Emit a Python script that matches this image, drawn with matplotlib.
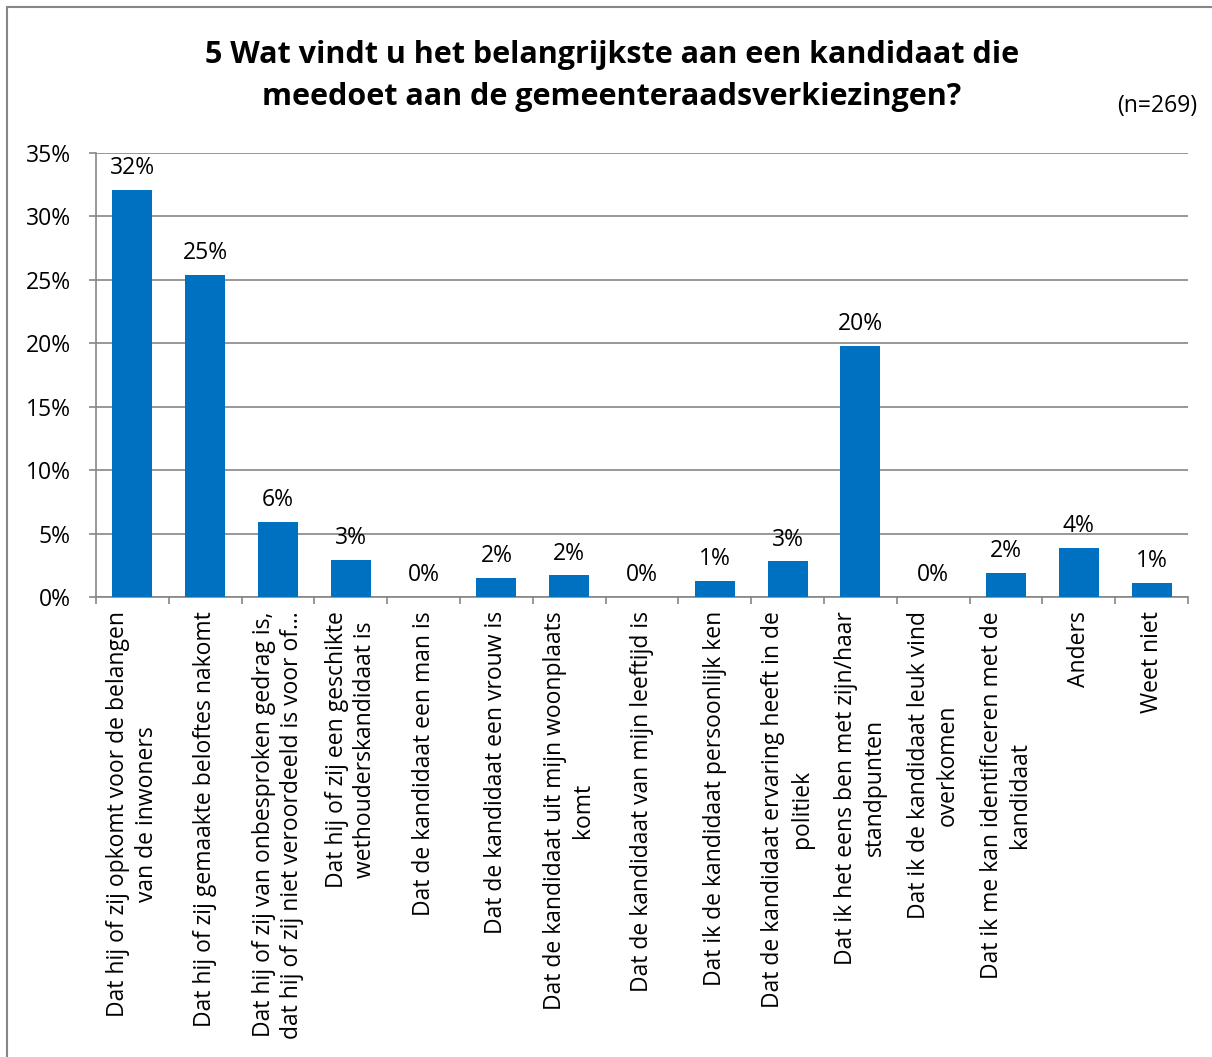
import matplotlib
matplotlib.use("Agg")
import matplotlib.pyplot as plt
import numpy as np
from matplotlib.patches import Rectangle

BLUE = "#0070C0"
GRID = "#868686"

categories = [
    "Dat hij of zij opkomt voor de belangen\nvan de inwoners",
    "Dat hij of zij gemaakte beloftes nakomt",
    "Dat hij of zij van onbesproken gedrag is,\ndat hij of zij niet veroordeeld is voor of...",
    "Dat hij of zij een geschikte\nwethouderskandidaat is",
    "Dat de kandidaat een man is",
    "Dat de kandidaat een vrouw is",
    "Dat de kandidaat uit mijn woonplaats\nkomt",
    "Dat de kandidaat van mijn leeftijd is",
    "Dat ik de kandidaat persoonlijk ken",
    "Dat de kandidaat ervaring heeft in de\npolitiek",
    "Dat ik het eens ben met zijn/haar\nstandpunten",
    "Dat ik de kandidaat leuk vind\noverkomen",
    "Dat ik me kan identificeren met de\nkandidaat",
    "Anders",
    "Weet niet",
]
values = [32.1, 25.4, 5.9, 2.9, 0.0, 1.5, 1.7, 0.0, 1.3, 2.8, 19.8, 0.0, 1.9, 3.9, 1.1]
yticks = [0, 5, 10, 15, 20, 25, 30, 35]

plt.rcParams["font.family"] = ["Open Sans", "DejaVu Sans"]

fig = plt.figure(figsize=(12.12, 10.57), dpi=100)
ax = fig.add_axes([96 / 1212, 1 - 597 / 1057, (1188 - 96) / 1212, (597 - 153) / 1057])

x = np.arange(len(values))
ax.bar(x, values, width=0.55, color=BLUE, zorder=3)
for xi, v in zip(x, values):
    ax.annotate(f"{v:.0f}%", (xi, v), xytext=(0, 7), textcoords="offset points",
                ha="center", va="bottom", fontsize=16.5, color="black")

ax.set_xlim(-0.5, len(values) - 0.5)
ax.set_ylim(0, 35)
ax.set_yticks(yticks)
ax.set_yticklabels([f"{t}%" for t in yticks], fontsize=16.5)
ax.yaxis.grid(True, color=GRID, linewidth=1.2, zorder=0)
ax.set_axisbelow(True)

ax.set_xticks(x)
ax.set_xticklabels(categories, rotation=90, fontsize=16.5, ha="center", va="top",
                   multialignment="center", linespacing=1.25)
ax.tick_params(axis="x", which="major", length=0, pad=10)
ax.set_xticks(np.arange(-0.5, len(values), 1), minor=True)
ax.tick_params(axis="x", which="minor", length=5, color=GRID, width=1.2)
ax.tick_params(axis="y", length=5, color=GRID, width=1.2, pad=13)

for s in ["top", "right"]:
    ax.spines[s].set_visible(False)
for s in ["left", "bottom"]:
    ax.spines[s].set_color(GRID)
    ax.spines[s].set_linewidth(1.2)

fig.text(0.505, 0.928, "5 Wat vindt u het belangrijkste aan een kandidaat die\n"
         "meedoet aan de gemeenteraadsverkiezingen?", ha="center", va="center",
         fontsize=22, fontweight="bold", linespacing=1.55)
fig.text(0.988, 0.9, "(n=269)", ha="right", va="center", fontsize=16.5)

# cadre du graphique (seulement haut et gauche visibles)
fig.add_artist(Rectangle((7 / 1212, -0.05), 1.2, 1.05 - 7 / 1057, transform=fig.transFigure,
                         fill=False, edgecolor=GRID, linewidth=1.5))

fig.savefig("out.png", dpi=100)
